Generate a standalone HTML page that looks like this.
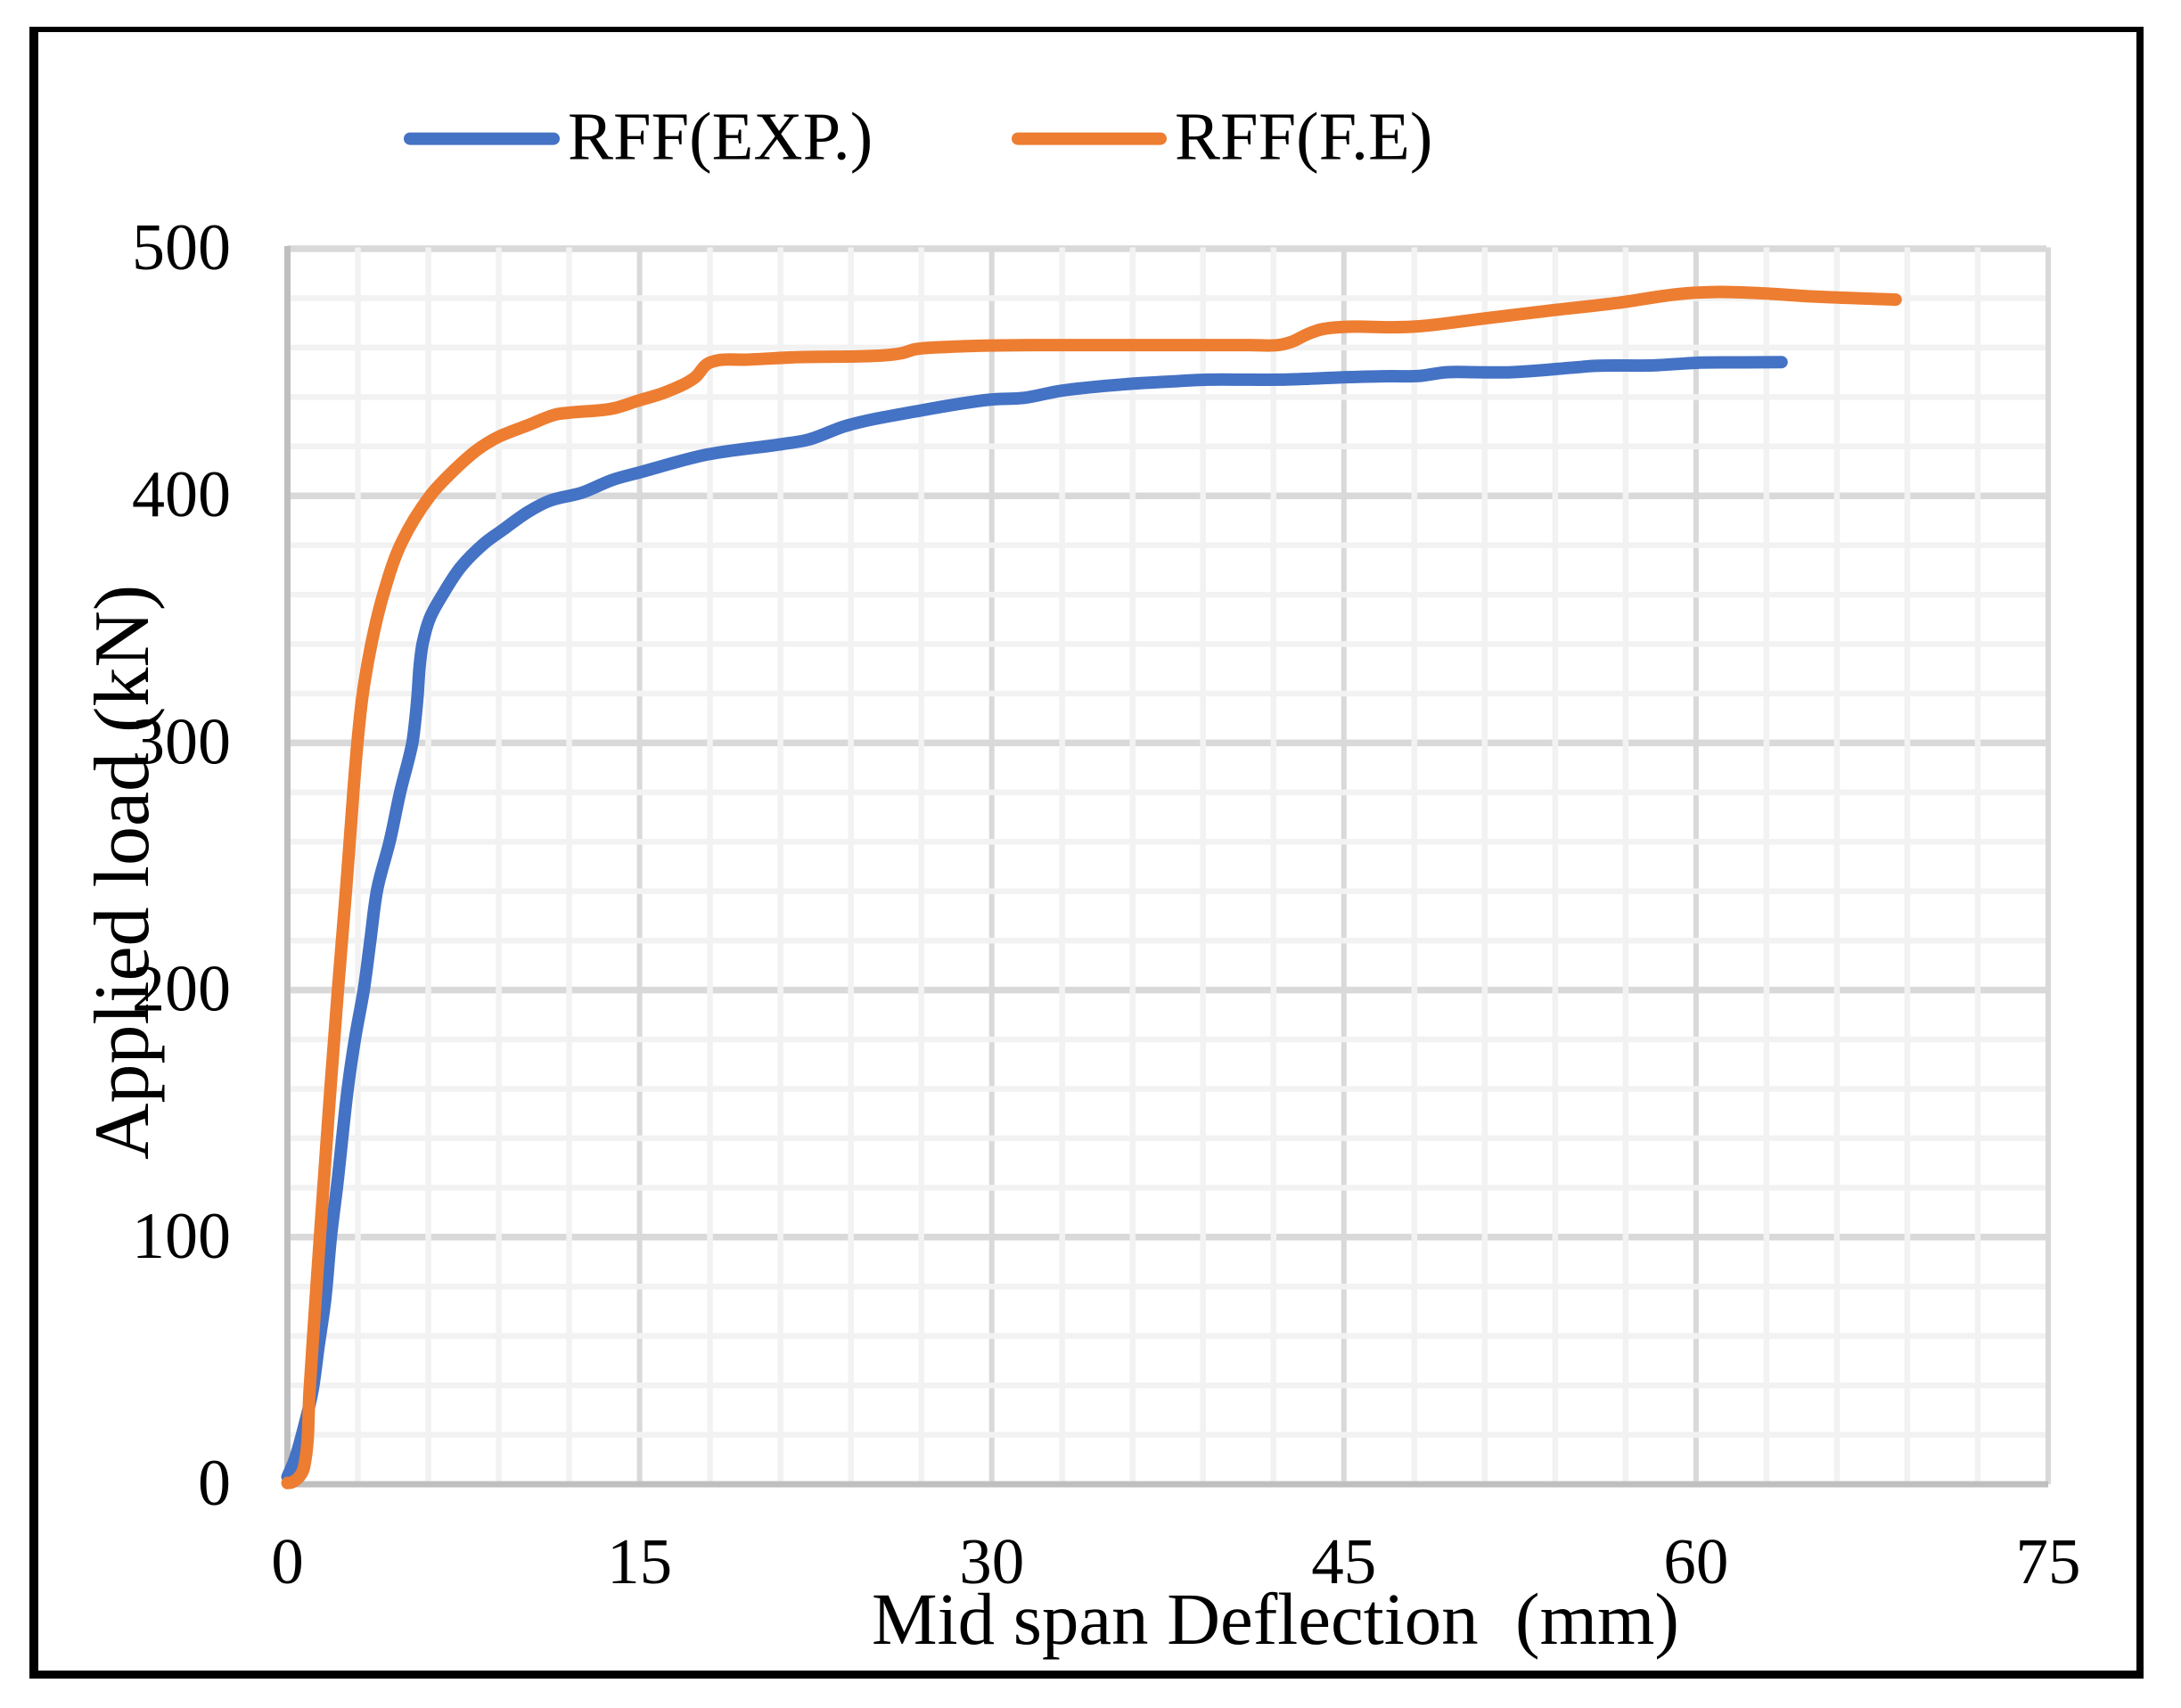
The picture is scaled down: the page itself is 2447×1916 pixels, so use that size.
<!DOCTYPE html>
<html lang="en">
<head>
<meta charset="utf-8">
<title>Applied load vs mid span deflection</title>
<style>
html,body{margin:0;padding:0;background:#fff;}
svg{display:block;}
text{font-family:"Liberation Serif",serif;fill:#000;white-space:pre;}
</style>
</head>
<body>
<svg id="chart" xmlns="http://www.w3.org/2000/svg" width="2447" height="1916" viewBox="0 0 2447 1916">
  <rect x="0" y="0" width="2447" height="1916" fill="#ffffff"/>
  <rect x="33" y="30" width="2372" height="1853" fill="#000000"/>
  <rect x="43" y="36" width="2354" height="1838" fill="#ffffff"/>
  <g id="grid"></g>
  <g id="axes"></g>
  <g id="series"></g>
  <g id="ticks"></g>
  <g>
    <line x1="460" y1="155.6" x2="621" y2="155.6" stroke="#4472c4" stroke-width="14" stroke-linecap="round"/>
    <text x="637" y="178.6" font-size="76.5">RFF(EXP.)</text>
    <line x1="1142" y1="155.6" x2="1302" y2="155.6" stroke="#ed7d31" stroke-width="14" stroke-linecap="round"/>
    <text x="1318" y="178.6" font-size="76.5">RFF(F.E)</text>
  </g>
  <text x="978" y="1844" font-size="82.8">Mid span Deflection  (mm)</text>
  <text transform="translate(166 1301) rotate(-90)" x="0" y="0" font-size="88">Applied load (kN)</text>
</svg>
<script>
const xTicks = [0, 15, 30, 45, 60, 75];
const yTicks = [0, 100, 200, 300, 400, 500];
const xMinorStep = 3;
const yMinorStep = 20;

const expX = [0, 0.3, 0.7, 1.06, 1.33, 1.6, 1.85, 2.13, 2.58, 2.89, 3.25, 3.53, 3.83, 4.36, 4.8, 5.32, 5.45, 5.55, 5.63, 5.76, 6.07, 6.61, 7.37, 8.38, 9.14, 10.25, 11.17, 12.55, 13.83, 14.97, 17.87, 21.04, 22.18, 23.82, 26.73, 29.9, 31.42, 32.93, 35.86, 37.5, 39.2, 41, 42.2, 43.6, 45.1, 47, 48.2, 49.35, 50.7, 52.1, 54.9, 55.7, 58.2, 60.2, 62, 63.64];
const expY = [3, 9.7, 23, 37.5, 56, 74, 100, 122, 161, 181, 200, 220, 241, 260.3, 280, 300, 309.7, 320, 331, 340.3, 350.6, 360, 371, 380.7, 386, 393.5, 398, 401.3, 406.4, 409.4, 416.7, 420.9, 422.7, 428.4, 434.1, 438.9, 439.7, 442.5, 445.3, 446.2, 447, 447, 447, 447.4, 448, 448.4, 448.5, 450, 450, 450, 452, 452.6, 452.8, 453.9, 454, 454.1];

const feX = [0, 0.18, 0.6, 0.76, 0.94, 1.24, 1.53, 1.83, 2.15, 2.5, 2.83, 2.98, 3.2, 3.58, 4.08, 4.84, 6.1, 7, 8.0, 8.5, 9.02, 10.28, 11.42, 12.05, 13.83, 14.97, 16.1, 17.37, 17.87, 18.38, 19.5, 21.67, 25.47, 26.2, 26.73, 28.25, 29.9, 32, 34.6, 37, 39.5, 41, 42.2, 42.8, 43.44, 44.06, 45.08, 47.1, 48.2, 51, 53.8, 56.6, 59.3, 61, 62.9, 64.9, 68.5];
const feY = [0.5, 0.7, 4.3, 9.7, 37.5, 80.5, 120, 160, 200, 241, 283, 300, 319.3, 340.3, 360, 380.7, 400.3, 409.5, 418, 421.3, 424, 428.7, 432.9, 433.7, 435.3, 438.6, 441.9, 448, 453.3, 454.9, 455.1, 456.1, 456.9, 457.8, 459.3, 460.3, 460.8, 461, 461, 461, 461, 461, 461, 462.4, 465.4, 467.4, 468.4, 468.2, 468.6, 471.8, 475, 478, 481.7, 482.5, 481.9, 480.7, 479.4];

const X_MIN = 0, X_MAX = 75, Y_MIN = 0, Y_MAX = 500;
const PLOT_LEFT = 322.5, PLOT_RIGHT = 2298, PLOT_TOP = 279, PLOT_BOTTOM = 1665;
const SVG_NS = 'http://www.w3.org/2000/svg';

function sx(v) { return PLOT_LEFT + (v - X_MIN) / (X_MAX - X_MIN) * (PLOT_RIGHT - PLOT_LEFT); }
function sy(v) { return PLOT_BOTTOM - (v - Y_MIN) / (Y_MAX - Y_MIN) * (PLOT_BOTTOM - PLOT_TOP); }

function makeLine(x1, y1, x2, y2, color, width) {
  const el = document.createElementNS(SVG_NS, 'line');
  el.setAttribute('x1', x1);
  el.setAttribute('y1', y1);
  el.setAttribute('x2', x2);
  el.setAttribute('y2', y2);
  el.setAttribute('stroke', color);
  el.setAttribute('stroke-width', width);
  return el;
}

function smoothPath(xs, ys) {
  const pts = xs.map(function (x, i) { return [sx(x), sy(ys[i])]; });
  const n = pts.length;
  const tangents = pts.map(function (p, i) {
    let tx = 0, ty = 0;
    if (i > 0) {
      const dx = p[0] - pts[i - 1][0], dy = p[1] - pts[i - 1][1], len = Math.hypot(dx, dy) || 1;
      tx += dx / len; ty += dy / len;
    }
    if (i < n - 1) {
      const dx = pts[i + 1][0] - p[0], dy = pts[i + 1][1] - p[1], len = Math.hypot(dx, dy) || 1;
      tx += dx / len; ty += dy / len;
    }
    const tl = Math.hypot(tx, ty) || 1;
    return [tx / tl, ty / tl];
  });
  let d = 'M' + pts[0][0].toFixed(2) + ' ' + pts[0][1].toFixed(2);
  for (let i = 0; i < n - 1; i++) {
    const p1 = pts[i], p2 = pts[i + 1];
    const h = Math.hypot(p2[0] - p1[0], p2[1] - p1[1]) / 3;
    const c1x = p1[0] + tangents[i][0] * h;
    const c1y = p1[1] + tangents[i][1] * h;
    const c2x = p2[0] - tangents[i + 1][0] * h;
    const c2y = p2[1] - tangents[i + 1][1] * h;
    d += 'C' + c1x.toFixed(2) + ' ' + c1y.toFixed(2) + ' ' + c2x.toFixed(2) + ' ' + c2y.toFixed(2) + ' ' + p2[0].toFixed(2) + ' ' + p2[1].toFixed(2);
  }
  return d;
}

const grid = document.getElementById('grid');
const axes = document.getElementById('axes');
const series = document.getElementById('series');
const ticks = document.getElementById('ticks');

/* major gridlines first, minor drawn over them */
yTicks.forEach(function (v) {
  if (v === Y_MIN) return;
  const el = makeLine(PLOT_LEFT, sy(v), PLOT_RIGHT - 2, sy(v), '#d9d9d9', 7.5);
  
  
  grid.appendChild(el);
});
xTicks.forEach(function (v) {
  if (v === X_MIN) return;
  const el = makeLine(sx(v), PLOT_TOP - 1.5, sx(v), PLOT_BOTTOM, '#d9d9d9', 6);
  
  
  grid.appendChild(el);
});
for (let v = Y_MIN + yMinorStep; v < Y_MAX; v += yMinorStep) {
  if (v % 100 === 0) continue;
  const el = makeLine(PLOT_LEFT, sy(v), PLOT_RIGHT - 3, sy(v), '#f2f2f2', 6.5);
  
  
  grid.appendChild(el);
}
for (let v = X_MIN + xMinorStep; v < X_MAX; v += xMinorStep) {
  if (v % 15 === 0) continue;
  const el = makeLine(sx(v), PLOT_TOP - 1.5, sx(v), PLOT_BOTTOM, '#f2f2f2', 6.5);
  
  
  grid.appendChild(el);
}

const yAxisLine = makeLine(PLOT_LEFT, PLOT_TOP - 3, PLOT_LEFT, PLOT_BOTTOM + 3, '#bfbfbf', 7);


axes.appendChild(yAxisLine);

const xAxisLine = makeLine(PLOT_LEFT - 3, PLOT_BOTTOM, PLOT_RIGHT, PLOT_BOTTOM, '#bfbfbf', 7);


axes.appendChild(xAxisLine);

const expLine = document.createElementNS(SVG_NS, 'path');


expLine.setAttribute('d', smoothPath(expX, expY));
expLine.setAttribute('fill', 'none');
expLine.setAttribute('stroke', '#4472c4');
expLine.setAttribute('stroke-width', '14');
expLine.setAttribute('stroke-linecap', 'round');
expLine.setAttribute('stroke-linejoin', 'round');
series.appendChild(expLine);

const feLine = document.createElementNS(SVG_NS, 'path');


feLine.setAttribute('d', smoothPath(feX, feY));
feLine.setAttribute('fill', 'none');
feLine.setAttribute('stroke', '#ed7d31');
feLine.setAttribute('stroke-width', '14');
feLine.setAttribute('stroke-linecap', 'round');
feLine.setAttribute('stroke-linejoin', 'round');
series.appendChild(feLine);

yTicks.forEach(function (v) {
  const el = document.createElementNS(SVG_NS, 'text');
  
  
  el.setAttribute('x', 259);
  el.setAttribute('y', sy(v) + 23);
  el.setAttribute('text-anchor', 'end');
  el.setAttribute('font-size', '74');
  el.textContent = String(v);
  ticks.appendChild(el);
});
xTicks.forEach(function (v) {
  const el = document.createElementNS(SVG_NS, 'text');
  
  
  el.setAttribute('x', sx(v));
  el.setAttribute('y', 1776);
  el.setAttribute('text-anchor', 'middle');
  el.setAttribute('font-size', '73');
  el.textContent = String(v);
  ticks.appendChild(el);
});
</script>
</body>
</html>
